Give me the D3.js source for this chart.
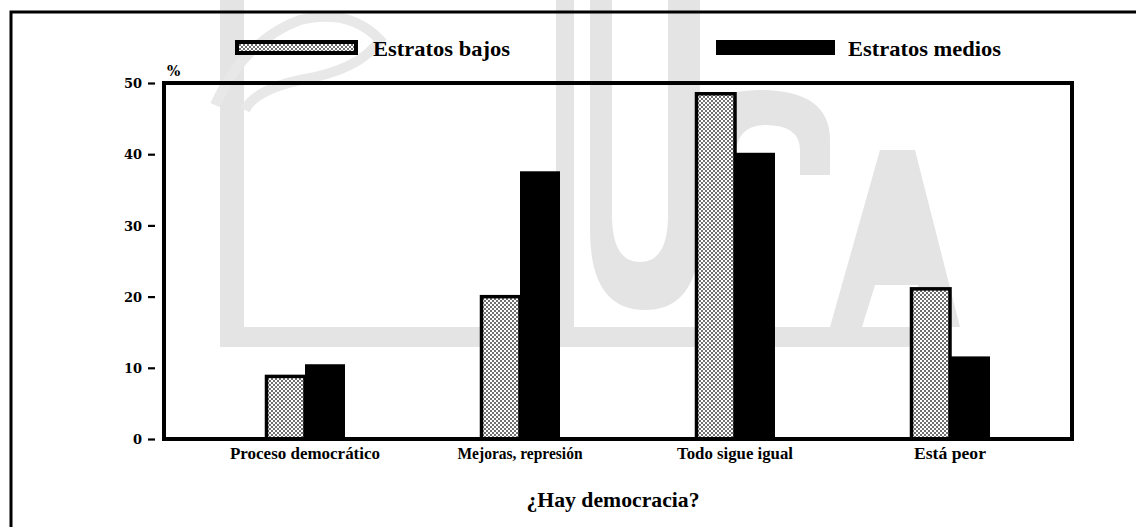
<!DOCTYPE html>
<html>
<head>
<meta charset="utf-8">
<script src="https://cdn.jsdelivr.net/npm/d3@7"></script>
<style>
  html, body { margin: 0; padding: 0; background: #fff; }
  svg { display: block; }
</style>
</head>
<body>
<svg id="chart" width="1136" height="527"></svg>
<script>
// ---- data ----
const categories = ["Proceso democrático", "Mejoras, represión", "Todo sigue igual", "Está peor"];
const seriesNames = ["Estratos bajos", "Estratos medios"];
const estratosBajos = [9.0, 20.2, 48.7, 21.3];
const estratosMedios = [10.5, 37.6, 40.2, 11.6];
const yTicks = [0, 10, 20, 30, 40, 50];
const yUnit = "%";
const xTitle = "¿Hay democracia?";

// ---- layout / style constants ----
const W = 1136, H = 527;
const plot = { left: 164, right: 1072, top: 83, bottom: 439 };
const serif = "'Liberation Serif', 'Times New Roman', serif";
const serifWide = "'DejaVu Serif', serif";
const catLabelWidth = [150, 125, 116, 72];
const legendTextWidth = [137, 153];
const legendX = [235, 716];

const svg = d3.select("#chart");

// pattern for stippled bars
const defs = svg.append("defs");
const pat = defs.append("pattern")
  .attr("id", "stipple").attr("patternUnits", "userSpaceOnUse")
  .attr("width", 4).attr("height", 4);
pat.append("rect").attr("width", 4).attr("height", 4).attr("fill", "#fff");
pat.append("circle").attr("cx", 1).attr("cy", 1).attr("r", 0.95).attr("fill", "#333");
pat.append("circle").attr("cx", 3).attr("cy", 3).attr("r", 0.95).attr("fill", "#333");

// ---- watermark (light gray logo in background) ----
const wm = svg.append("g").attr("fill", "#e4e4e4").attr("stroke", "none");
wm.append("rect").attr("x", 220).attr("y", 0).attr("width", 24).attr("height", 347);
wm.append("rect").attr("x", 220).attr("y", 327).attr("width", 698).attr("height", 20);
wm.append("rect").attr("x", 556).attr("y", 0).attr("width", 18).attr("height", 330);
wm.append("path").attr("d", "M590,0 L700,0 L700,230 Q700,310 645,310 Q590,310 590,230 Z");
wm.append("path").attr("fill", "#fff").attr("d", "M612,0 L668,0 L668,215 Q668,262 640,262 Q612,262 612,215 Z");
wm.append("path").attr("d", "M700,130 Q700,90 760,90 Q830,90 830,140 L830,175 L800,175 L800,150 Q800,125 765,125 Q735,125 735,160 L735,270 L700,270 Z");
wm.append("path").attr("d", "M830,327 L880,150 L915,150 L960,327 L930,327 L918,285 L875,285 L862,327 Z");
wm.append("path").attr("fill", "none").attr("stroke", "#e8e8e8").attr("stroke-width", 10)
  .attr("d", "M215,105 Q245,40 300,20 Q350,8 380,40 Q360,70 300,80 Q255,90 245,110");

// ---- outer frame ----
svg.append("path")
  .attr("d", `M11,${H + 5} L11,12 L${W + 5},12`)
  .attr("fill", "none").attr("stroke", "#000").attr("stroke-width", 3);

// ---- scales ----
const y = d3.scaleLinear().domain([0, 50]).range([plot.bottom, plot.top]);
const x0 = d3.scalePoint().domain(categories).range([305, 950]);
const groupWidth = 80;
const x1 = d3.scaleBand().domain(seriesNames).range([-groupWidth / 2, groupWidth / 2]).padding(0);

const rows = categories.map((c, i) => ({ cat: c, vals: [estratosBajos[i], estratosMedios[i]] }));

// ---- bars ----
const groups = svg.append("g").selectAll("g").data(rows).join("g")
  .attr("transform", d => `translate(${x0(d.cat)},0)`);

groups.append("rect")
  .attr("x", x1(seriesNames[1]))
  .attr("width", x1.bandwidth())
  .attr("y", d => y(d.vals[1]))
  .attr("height", d => y(0) - y(d.vals[1]))
  .attr("fill", "#000");

groups.append("rect")
  .attr("x", x1(seriesNames[0]) + 1.5)
  .attr("width", x1.bandwidth() - 1.5)
  .attr("y", d => y(d.vals[0]) + 1.5)
  .attr("height", d => y(0) - y(d.vals[0]) - 1.5)
  .attr("fill", "url(#stipple)")
  .attr("stroke", "#000").attr("stroke-width", 3.5);

// ---- plot frame ----
svg.append("rect")
  .attr("x", plot.left).attr("y", plot.top)
  .attr("width", plot.right - plot.left).attr("height", plot.bottom - plot.top)
  .attr("fill", "none").attr("stroke", "#000").attr("stroke-width", 4);

// ---- y axis ----
const yAxis = d3.axisLeft(y).tickValues(yTicks).tickSize(7).tickPadding(6).tickFormat(d3.format("d"));
const ga = svg.append("g").attr("transform", `translate(${plot.left - 9},0)`).call(yAxis);
ga.select(".domain").remove();
ga.selectAll(".tick line").attr("stroke", "#000").attr("stroke-width", 2.2);
ga.selectAll(".tick text")
  .attr("font-family", serifWide).attr("font-weight", "bold").attr("font-size", 13)
  .attr("fill", "#000").attr("dy", "0.36em");

svg.append("text").attr("x", 167).attr("y", 76)
  .attr("font-family", serifWide).attr("font-weight", "bold").attr("font-size", 14)
  .text(yUnit);

// ---- category labels ----
svg.append("g").selectAll("text").data(categories).join("text")
  .attr("x", d => x0(d))
  .attr("y", 459)
  .attr("text-anchor", "middle")
  .attr("font-family", serif).attr("font-weight", "bold").attr("font-size", 16)
  .attr("textLength", (d, i) => catLabelWidth[i])
  .attr("lengthAdjust", "spacingAndGlyphs")
  .text(d => d);

// ---- x title ----
svg.append("text").attr("x", 613).attr("y", 507)
  .attr("text-anchor", "middle")
  .attr("font-family", serif).attr("font-weight", "bold").attr("font-size", 21)
  .attr("textLength", 173).attr("lengthAdjust", "spacingAndGlyphs")
  .text(xTitle);

// ---- legend ----
const leg = svg.append("g").selectAll("g").data(seriesNames).join("g")
  .attr("transform", (d, i) => `translate(${legendX[i]},40)`);
leg.append("rect")
  .attr("x", (d, i) => i === 0 ? 2 : 0).attr("y", (d, i) => i === 0 ? 2 : 0)
  .attr("width", 119).attr("height", (d, i) => i === 0 ? 11 : 15)
  .attr("fill", (d, i) => i === 0 ? "url(#stipple)" : "#000")
  .attr("stroke", (d, i) => i === 0 ? "#000" : "none").attr("stroke-width", 4);
leg.append("text")
  .attr("x", (d, i) => i === 0 ? 138 : 132).attr("y", 16)
  .attr("font-family", serif).attr("font-weight", "bold").attr("font-size", 21)
  .attr("textLength", (d, i) => legendTextWidth[i])
  .attr("lengthAdjust", "spacingAndGlyphs")
  .text(d => d);
</script>
</body>
</html>
